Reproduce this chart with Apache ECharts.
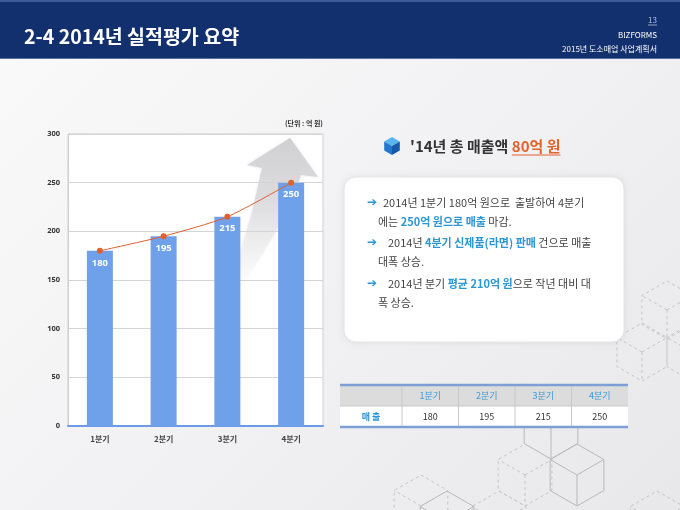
<!DOCTYPE html>
<html><head><meta charset="utf-8">
<script src="https://cdn.jsdelivr.net/npm/echarts@6/dist/echarts.min.js"></script>
<style>
html,body{margin:0;padding:0;width:680px;height:510px;overflow:hidden;
background:linear-gradient(135deg,#fafafa 0%,#f1f1f3 55%,#e8e8ea 100%);}
#c{width:680px;height:510px}
</style>
</head><body><div id="c"></div><script>
const categories = ['1분기','2분기','3분기','4분기'];
const sales = [180, 195, 215, 250];
const yMax = 300, yStep = 50;
const unitLabel = '(단위 : 억 원)';
const rowLabel = '매 출';
const pageTitle = '2-4 2014년 실적평가 요약';
const pageNo = '13';
const brand = 'BIZFORMS';
const docTitle = '2015년 도소매업 사업계획서';
const summaryMain = "'14년 총 매출액 ";
const summaryAmount = '80억 원';

const KR = '"Noto Sans CJK KR", "Noto Sans", sans-serif';
const chart = echarts.init(document.getElementById('c'));

const mctx = document.createElement('canvas').getContext('2d');
function textW(str, font) { mctx.font = font; return mctx.measureText(str).width; }

function cube(cx, cy, r, dashed, color) {
  const pts = [];
  for (let i = 0; i < 6; i++) {
    const a = (-90 + 60 * i) * Math.PI / 180;
    pts.push([cx + r * Math.cos(a), cy + r * Math.sin(a)]);
  }
  const st = {fill: null, stroke: color, lineWidth: 1, lineDash: dashed ? [3, 3] : null};
  const els = [{type: 'polygon', shape: {points: pts}, style: Object.assign({}, st), z: -50, silent: true}];
  [1, 3, 5].forEach(i => els.push({type: 'line', shape: {x1: cx, y1: cy, x2: pts[i][0], y2: pts[i][1]},
    style: Object.assign({}, st), z: -50, silent: true}));
  return els;
}

const g = [];
// header
g.push({type: 'rect', shape: {x: 0, y: 0, width: 680, height: 59}, style: {fill: '#12306d'}, z: 10, silent: true});
g.push({type: 'rect', shape: {x: 0, y: 0, width: 680, height: 2}, style: {fill: '#3a5a98'}, z: 11, silent: true});
g.push({type: 'rect', shape: {x: 0, y: 58, width: 680, height: 1}, style: {fill: '#5870a0'}, z: 11, silent: true});
g.push({type: 'text', x: 24, y: 37, style: {text: pageTitle, fill: '#ffffff', font: 'bold 19.5px ' + KR, verticalAlign: 'middle'}, z: 12});
g.push({type: 'text', x: 657, y: 20, style: {text: pageNo, fill: '#b8c0d8', font: '8px ' + KR, align: 'right', verticalAlign: 'middle'}, z: 12});
g.push({type: 'line', shape: {x1: 648, y1: 25, x2: 657, y2: 25}, style: {stroke: '#b8c0d8', lineWidth: 0.8}, z: 12});
g.push({type: 'text', x: 657, y: 35, style: {text: brand, fill: '#ffffff', font: '8px ' + KR, align: 'right', verticalAlign: 'middle'}, z: 12});
g.push({type: 'text', x: 657, y: 49, style: {text: docTitle, fill: '#ffffff', font: '8px ' + KR, align: 'right', verticalAlign: 'middle'}, z: 12});

// plot background
g.push({type: 'rect', shape: {x: 68, y: 134, width: 255, height: 292}, style: {fill: '#ffffff', stroke: '#cfcfcf', lineWidth: 1}, z: -20, silent: true});
// arrow
g.push({type: 'polygon', z: -15, silent: true,
  shape: {points: [[290,138],[318,177],[301,175],[293,198],[280,225],[262,255],[240,290],[222,290],[240,252],[252,212],[262,168],[247,165]]},
  style: {fill: {type: 'linear', x: 0, y: 0, x2: 0, y2: 1, colorStops: [
    {offset: 0, color: 'rgba(208,208,210,1)'}, {offset: 0.4, color: 'rgba(218,218,221,0.85)'}, {offset: 1, color: 'rgba(245,245,247,0)'}]},
    shadowBlur: 3, shadowColor: 'rgba(200,200,200,0.5)'}});
g.push({type: 'text', x: 323, y: 123, style: {text: unitLabel, fill: '#333', font: 'bold 7px ' + KR, align: 'right', verticalAlign: 'middle'}, z: 5});

// summary title with cube icon
(function(){
  const cx = 392, cy = 146, r = 9;
  const p = [];
  for (let i = 0; i < 6; i++) { const a = (-90 + 60 * i) * Math.PI / 180; p.push([cx + r * Math.cos(a), cy + r * Math.sin(a)]); }
  g.push({type: 'polygon', shape: {points: [p[0], p[1], [cx, cy], p[5]]}, style: {fill: '#5ab4ee'}, z: 5, silent: true});
  g.push({type: 'polygon', shape: {points: [p[5], [cx, cy], p[3], p[4]]}, style: {fill: '#2277cc'}, z: 5, silent: true});
  g.push({type: 'polygon', shape: {points: [[cx, cy], p[1], p[2], p[3]]}, style: {fill: '#155aa8'}, z: 5, silent: true});
  const f = 'bold 15px ' + KR;
  const x0 = 410;
  const w1 = textW(summaryMain, f), w2 = textW(summaryAmount, f);
  g.push({type: 'text', x: x0, y: 146, style: {text: summaryMain, fill: '#333', font: f, verticalAlign: 'middle'}, z: 5});
  g.push({type: 'text', x: x0 + w1, y: 146, style: {text: summaryAmount, fill: '#e3632b', font: f, verticalAlign: 'middle'}, z: 5});
  g.push({type: 'line', shape: {x1: x0 + w1, y1: 155, x2: x0 + w1 + w2, y2: 155}, style: {stroke: '#e3632b', lineWidth: 1.2}, z: 5});
})();

// rounded panel
g.push({type: 'rect', shape: {x: 344, y: 177, width: 280, height: 165, r: 12},
  style: {fill: '#ffffff', stroke: '#e6e6e6', lineWidth: 1, shadowBlur: 6, shadowColor: 'rgba(0,0,0,0.08)'}, z: 1, silent: true});
const rich = {b: {fill: '#2b96d4', fontWeight: 'bold', fontSize: 11, fontFamily: KR}};
const lines = [
  {arrow: true, x: 383, y: 203, t: '2014년 1분기 180억 원으로  출발하여 4분기'},
  {x: 378, y: 222, t: '에는 {b|250억 원으로 매출} 마감.'},
  {arrow: true, x: 388, y: 243, t: '2014년 {b|4분기 신제품(라면) 판매} 건으로 매출'},
  {x: 378, y: 262, t: '대폭 상승.'},
  {arrow: true, x: 388, y: 284, t: '2014년 분기 {b|평균 210억 원}으로 작년 대비 대'},
  {x: 378, y: 303, t: '폭 상승.'}
];
lines.forEach(l => {
  if (l.arrow) g.push({type: 'text', x: 367, y: l.y, style: {text: '➔', fill: '#2b96d4', font: 'bold 12px "DejaVu Sans"', verticalAlign: 'middle'}, z: 5});
  g.push({type: 'text', x: l.x, y: l.y, style: {text: l.t, fill: '#444', fontSize: 11, fontFamily: KR, verticalAlign: 'middle', rich: rich}, z: 5});
});

// table built from data arrays
(function(){
  const x0 = 340, x1 = 628, firstW = 62;
  const colW = (x1 - x0 - firstW) / categories.length;
  const yTop = 385, hRow = 21;
  g.push({type: 'rect', shape: {x: x0, y: yTop, width: x1 - x0, height: hRow}, style: {fill: '#dcdcdc'}, z: 5, silent: true});
  g.push({type: 'rect', shape: {x: x0, y: yTop + hRow, width: x1 - x0, height: hRow}, style: {fill: '#ffffff'}, z: 5, silent: true});
  g.push({type: 'line', shape: {x1: x0, y1: yTop + hRow, x2: x1, y2: yTop + hRow}, style: {stroke: '#c8c8c8', lineWidth: 1}, z: 6});
  for (let i = 0; i <= categories.length - 1; i++) {
    const xs = x0 + firstW + colW * i;
    g.push({type: 'line', shape: {x1: xs, y1: yTop, x2: xs, y2: yTop + 2 * hRow}, style: {stroke: '#c8c8c8', lineWidth: 1}, z: 6});
  }
  g.push({type: 'line', shape: {x1: x0, y1: yTop, x2: x1, y2: yTop}, style: {stroke: '#7d9fd6', lineWidth: 2.5}, z: 7});
  g.push({type: 'line', shape: {x1: x0, y1: yTop + 2 * hRow, x2: x1, y2: yTop + 2 * hRow}, style: {stroke: '#7d9fd6', lineWidth: 2.5}, z: 7});
  g.push({type: 'text', x: x0 + firstW / 2, y: yTop + hRow * 1.5, style: {text: rowLabel, fill: '#2b96d4', font: 'bold 9px ' + KR, align: 'center', verticalAlign: 'middle'}, z: 7});
  categories.forEach((c, i) => {
    const cx = x0 + firstW + colW * (i + 0.5);
    g.push({type: 'text', x: cx, y: yTop + hRow / 2, style: {text: c, fill: '#3a9ad9', font: '9px ' + KR, align: 'center', verticalAlign: 'middle'}, z: 7});
    g.push({type: 'text', x: cx, y: yTop + hRow * 1.5, style: {text: String(sales[i]), fill: '#333', font: '9px ' + KR, align: 'center', verticalAlign: 'middle'}, z: 7});
  });
})();

// decorative cubes
const dc = '#c4c4c8', sc = '#b8b8bc';
[].concat(
  cube(667, 310, 29, true, dc), cube(642, 352, 29, true, dc), cube(692, 352, 29, true, dc),
  cube(577, 475, 31, false, sc), cube(551, 428, 31, false, sc), cube(525, 475, 31, true, dc),
  cube(499, 522, 31, true, dc), cube(657, 522, 31, true, dc), cube(447, 522, 31, false, sc),
  cube(421, 506, 31, true, dc)
).forEach(e => g.push(e));

chart.setOption({
  animation: false,
  grid: {left: 68, right: 357, top: 134, bottom: 84, containLabel: false},
  xAxis: {type: 'category', data: categories,
    axisLine: {show: true, lineStyle: {color: '#6b9be6', width: 2}},
    axisTick: {show: false},
    axisLabel: {color: '#444', fontSize: 8, fontWeight: 'bold', fontFamily: KR, margin: 9}},
  yAxis: {type: 'value', min: 0, max: yMax, interval: yStep,
    axisLine: {show: true, lineStyle: {color: '#cfcfcf'}},
    axisTick: {show: false},
    splitLine: {lineStyle: {color: '#d4d4d4', width: 1}},
    axisLabel: {color: '#333', fontSize: 7.5, fontWeight: 'bold', fontFamily: 'Noto Sans', margin: 8}},
  series: [
    {type: 'bar', data: sales, barWidth: 26, z: 2,
      itemStyle: {color: '#6fa0ea'},
      label: {show: true, position: 'insideTop', distance: 7, color: '#fff', fontWeight: 'bold', fontSize: 9.5, fontFamily: 'Noto Sans'}},
    {type: 'line', data: sales, smooth: 0.25, z: 3, symbol: 'circle', symbolSize: 6,
      lineStyle: {color: '#e06030', width: 1}, itemStyle: {color: '#e06030'}}
  ],
  graphic: g
});
</script></body></html>
